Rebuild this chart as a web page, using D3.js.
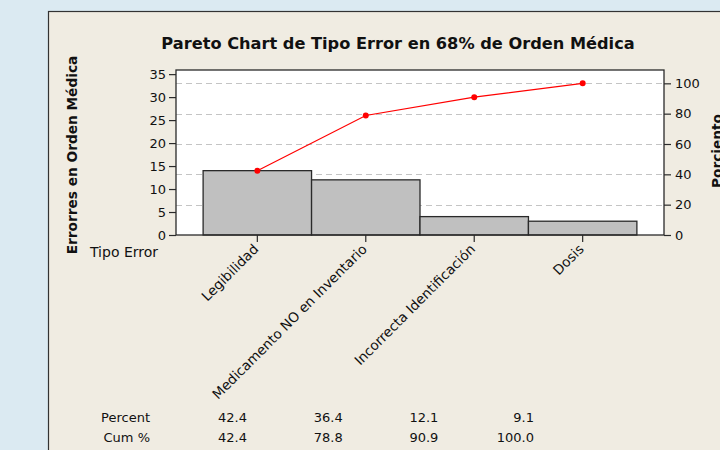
<!DOCTYPE html>
<html>
<head>
<meta charset="utf-8">
<script src="https://cdn.jsdelivr.net/npm/d3@7"></script>
<style>
  body { margin: 0; background: #dbeaf2; }
  svg { display: block; font-family: "DejaVu Sans", sans-serif; }
</style>
</head>
<body>
<div id="chart"></div>
<script>
/* Data. */
const categories = ["Legibilidad", "Medicamento NO en Inventario", "Incorrecta Identificación", "Dosis"]
const counts = [14, 12, 4, 3]
const percent = [42.4, 36.4, 12.1, 9.1]
const cumPercent = [42.4, 78.8, 90.9, 100.0]
const leftTicks = [0, 5, 10, 15, 20, 25, 30, 35]
const rightTicks = [0, 20, 40, 60, 80, 100]
const gridTicks = [20, 40, 60, 80, 100]

/* Define svg-size. */
const width = 720
const height = 450

const svg = d3.select("#chart")
  .append("svg")
  .attr("width", width)
  .attr("height", height)

/* Panel behind the chart. */
svg.append("rect")
  .attr("x", 48.5)
  .attr("y", 11.5)
  .attr("width", 700)
  .attr("height", 500)
  .attr("fill", "#f0ece2")
  .attr("stroke", "#333")
  .attr("stroke-width", 1.2)

/* Plot area. */
const plot = { left: 176, right: 664, top: 70, bottom: 235 }
const total = d3.sum(counts)
const yMax = 35.9

const x = d3.scaleBand()
  .domain(categories)
  .range([plot.left, plot.right])
  .paddingInner(0)
  .paddingOuter(0.25)

const y = d3.scaleLinear()
  .domain([0, yMax])
  .range([plot.bottom, plot.top])

const yRight = d3.scaleLinear()
  .domain([0, yMax / total * 100])
  .range([plot.bottom, plot.top])

svg.append("rect")
  .attr("x", plot.left)
  .attr("y", plot.top)
  .attr("width", plot.right - plot.left)
  .attr("height", plot.bottom - plot.top)
  .attr("fill", "white")

/* Dashed gridlines at the percent ticks. */
svg.append("g")
  .selectAll("line")
  .data(gridTicks)
  .enter()
  .append("line")
  .attr("x1", plot.left)
  .attr("x2", plot.right)
  .attr("y1", d => Math.round(yRight(d)) + 0.5)
  .attr("y2", d => Math.round(yRight(d)) + 0.5)
  .attr("stroke", "#c4c4c4")
  .attr("stroke-width", 1.2)
  .attr("stroke-dasharray", "6,4")

/* Bars. */
svg.append("g")
  .selectAll("rect")
  .data(categories)
  .enter()
  .append("rect")
  .attr("x", d => x(d))
  .attr("y", (d, i) => y(counts[i]))
  .attr("width", x.bandwidth())
  .attr("height", (d, i) => plot.bottom - y(counts[i]))
  .attr("fill", "#c0c0c0")
  .attr("stroke", "#2a2a2a")
  .attr("stroke-width", 1.3)

/* Plot border. */
svg.append("rect")
  .attr("x", plot.left)
  .attr("y", plot.top)
  .attr("width", plot.right - plot.left)
  .attr("height", plot.bottom - plot.top)
  .attr("fill", "none")
  .attr("stroke", "#2a2a2a")
  .attr("stroke-width", 1.3)

/* Cumulative line. */
const line = d3.line()
  .x((d, i) => x(categories[i]) + x.bandwidth() / 2)
  .y(d => yRight(d))

svg.append("path")
  .datum(cumPercent)
  .attr("d", line)
  .attr("fill", "none")
  .attr("stroke", "red")
  .attr("stroke-width", 1.2)

svg.append("g")
  .selectAll("circle")
  .data(cumPercent)
  .enter()
  .append("circle")
  .attr("cx", (d, i) => x(categories[i]) + x.bandwidth() / 2)
  .attr("cy", d => yRight(d))
  .attr("r", 3)
  .attr("fill", "red")

/* Axes. */
const leftAxis = svg.append("g")
  .attr("transform", `translate(${plot.left},0)`)
  .call(d3.axisLeft(y).tickValues(leftTicks).tickSize(7).tickPadding(3))

const rightAxis = svg.append("g")
  .attr("transform", `translate(${plot.right},0)`)
  .call(d3.axisRight(yRight).tickValues(rightTicks).tickSize(7).tickPadding(4))

const bottomAxis = svg.append("g")
  .attr("transform", `translate(0,${plot.bottom})`)
  .call(d3.axisBottom(x).tickSize(7).tickFormat(""))

for (const axis of [leftAxis, rightAxis, bottomAxis]) {
  axis.select(".domain").remove()
  axis.selectAll("line").attr("stroke", "#2a2a2a").attr("stroke-width", 1.2)
  axis.selectAll("text")
    .attr("fill", "#111")
    .attr("font-size", "13px")
    .attr("font-family", "DejaVu Sans, sans-serif")
}

/* Rotated category labels. */
svg.append("g")
  .selectAll("text")
  .data(categories)
  .enter()
  .append("text")
  .attr("transform", d => `translate(${x(d) + x.bandwidth() / 2 + 2},${plot.bottom + 15}) rotate(-45)`)
  .attr("text-anchor", "end")
  .attr("font-size", "13.6px")
  .attr("fill", "#111")
  .text(d => d)

svg.append("text")
  .attr("x", 90)
  .attr("y", 257)
  .attr("font-size", "14px")
  .attr("fill", "#111")
  .text("Tipo Error")

/* Titles. */
svg.append("text")
  .attr("x", 398)
  .attr("y", 49)
  .attr("text-anchor", "middle")
  .attr("font-size", "16.2px")
  .attr("font-weight", "bold")
  .attr("fill", "#111")
  .text("Pareto Chart de Tipo Error en 68% de Orden Médica")

svg.append("text")
  .attr("transform", "translate(77,155) rotate(-90)")
  .attr("text-anchor", "middle")
  .attr("font-size", "13.7px")
  .attr("font-weight", "bold")
  .attr("fill", "#111")
  .text("Errorres en Orden Médica")

svg.append("text")
  .attr("transform", "translate(722,151) rotate(-90)")
  .attr("text-anchor", "middle")
  .attr("font-size", "13.7px")
  .attr("font-weight", "bold")
  .attr("fill", "#111")
  .text("Porciento")

/* Table under the chart. */
const col = d3.scalePoint()
  .domain(d3.range(categories.length))
  .range([247, 534])

const rows = [
  { label: "Percent", values: percent, y: 422 },
  { label: "Cum %", values: cumPercent, y: 442 }
]

rows.forEach(row => {
  svg.append("text")
    .attr("x", 150)
    .attr("y", row.y)
    .attr("text-anchor", "end")
    .attr("font-size", "13px")
    .attr("fill", "#111")
    .text(row.label)

  svg.append("g")
    .selectAll("text")
    .data(row.values)
    .enter()
    .append("text")
    .attr("x", (d, i) => col(i))
    .attr("y", row.y)
    .attr("text-anchor", "end")
    .attr("font-size", "13px")
    .attr("fill", "#111")
    .text(d => d.toFixed(1))
})
</script>
</body>
</html>
